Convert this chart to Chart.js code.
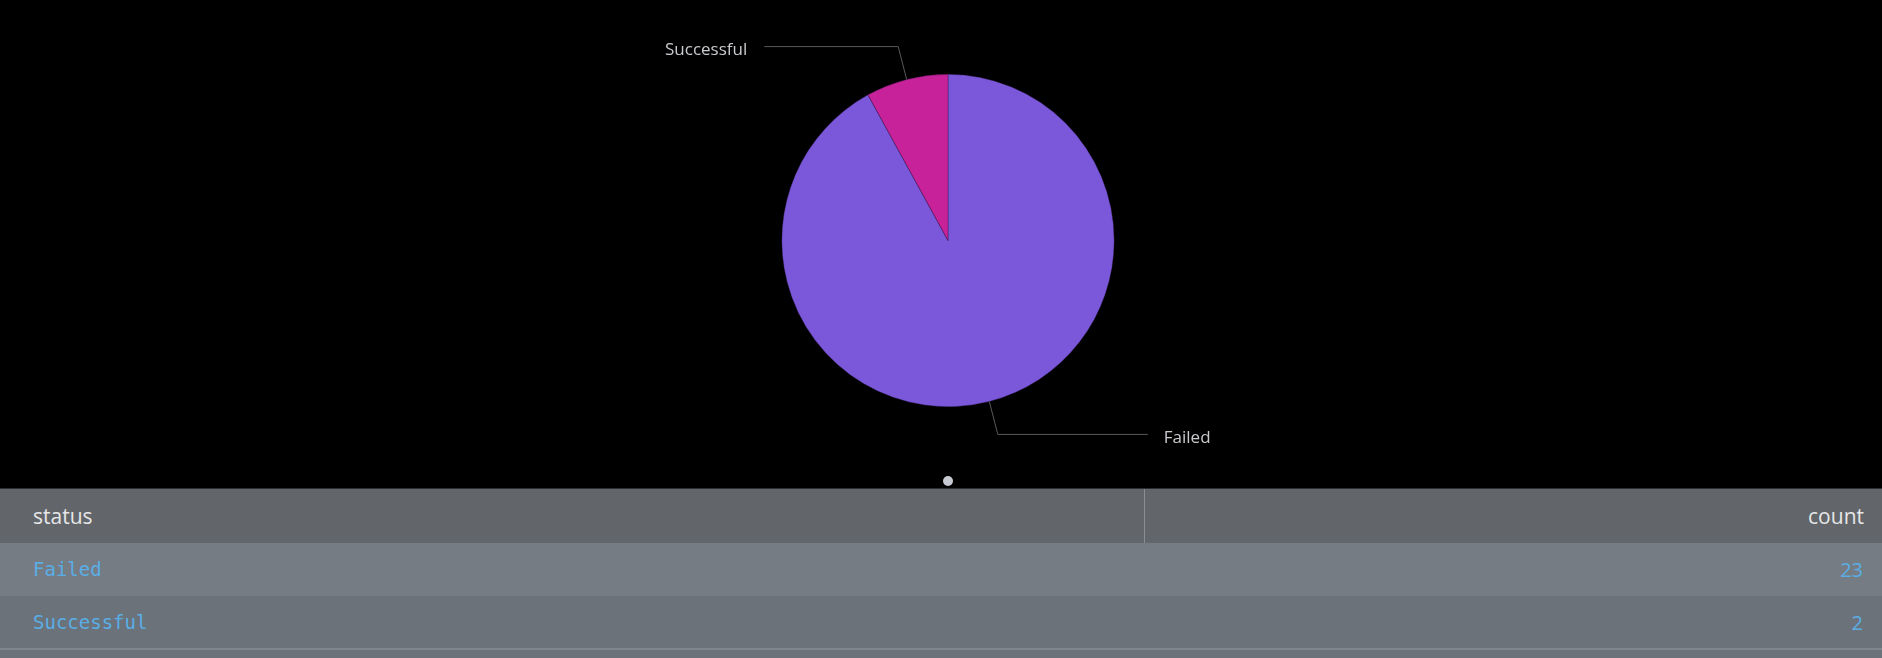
<!DOCTYPE html>
<html>
<head>
<meta charset="utf-8">
<script src="https://cdn.jsdelivr.net/npm/chart.js@4"></script>
<style>
  html, body { margin: 0; padding: 0; background: #000; width: 1882px; height: 658px; overflow: hidden; }
  #chartWrap { position: absolute; left: 0; top: 0; width: 1882px; height: 488px; }
  #dot { position: absolute; left: 943px; top: 476px; width: 10px; height: 10px; border-radius: 50%; background: #c6cbd3; }
  #table { position: absolute; left: 0; top: 488px; width: 1882px; height: 170px; background: #6b7279; border-top: 1px solid #2b2e32; box-sizing: border-box; }
  .row { position: relative; width: 100%; box-sizing: border-box; }
  .hdr { height: 54px; background: #626569; display: flex; }
  .hdr .c1 { width: 1145px; border-right: 1px solid #8a8e93; padding-left: 33px; box-sizing: border-box; line-height: 54px; font-family: "Open Sans", sans-serif; font-size: 21px; color: #e6e7e8; }
  .hdr .c2 { flex: 1; text-align: right; padding-right: 18px; line-height: 54px; font-family: "Open Sans", sans-serif; font-size: 21px; color: #e6e7e8; }
  .drow { height: 53px; display: flex; }
  .drow .c1 { width: 1146px; padding-left: 33px; box-sizing: border-box; line-height: 53px; font-family: "DejaVu Sans Mono", monospace; font-size: 19px; color: #5aaee6; }
  .drow .c2 { flex: 1; text-align: right; padding-right: 19px; line-height: 53px; font-family: "Open Sans", sans-serif; font-size: 20px; color: #5aaee6; }
  .r1 { background: #757c83; }
  .r2 { background: #6b7279; border-bottom: 2px solid #7f878e; height: 54px; }
</style>
</head>
<body>
<div id="chartWrap"><canvas id="c"></canvas></div>
<div id="dot"></div>
<div id="table"></div>
<script>
const categories = ["Failed", "Successful"];
const counts = [23, 2];
const columnHeaders = ["status", "count"];
const sliceColors = ["#7B57DA", "#C7229A"];

// Table built from the data arrays
const table = document.getElementById('table');
const hdr = document.createElement('div');
hdr.className = 'row hdr';
hdr.innerHTML = '<div class="c1">' + columnHeaders[0] + '</div><div class="c2">' + columnHeaders[1] + '</div>';
table.appendChild(hdr);
categories.forEach((cat, i) => {
  const r = document.createElement('div');
  r.className = 'row drow ' + (i === 0 ? 'r1' : 'r2');
  r.innerHTML = '<div class="c1">' + cat + '</div><div class="c2">' + counts[i] + '</div>';
  table.appendChild(r);
});

const leaderPlugin = {
  id: 'leaders',
  afterDatasetsDraw(chart) {
    const ctx = chart.ctx;
    const meta = chart.getDatasetMeta(0);
    ctx.save();
    meta.data.forEach((arc, i) => {
      const p = arc.getProps(['x', 'y', 'startAngle', 'endAngle', 'outerRadius'], true);
      const mid = (p.startAngle + p.endAngle) / 2;
      const cos = Math.cos(mid), sin = Math.sin(mid);
      const x0 = p.x + p.outerRadius * cos, y0 = p.y + p.outerRadius * sin;
      const x1 = p.x + (p.outerRadius + 34) * cos, y1 = p.y + (p.outerRadius + 34) * sin;
      const left = cos < 0;
      const x2 = left ? x1 - 134 : x1 + 150;
      ctx.strokeStyle = '#595959';
      ctx.lineWidth = 1;
      ctx.beginPath();
      ctx.moveTo(x0, y0);
      ctx.lineTo(x1, y1);
      ctx.lineTo(x2, y1);
      ctx.stroke();
      ctx.fillStyle = '#c8cace';
      ctx.font = '17px "Open Sans", sans-serif';
      ctx.textBaseline = 'middle';
      ctx.textAlign = left ? 'right' : 'left';
      ctx.fillText(chart.data.labels[i], left ? x2 - 17 : x2 + 16, y1 + 4);
    });
    ctx.restore();
  }
};

new Chart(document.getElementById('c'), {
  type: 'pie',
  data: {
    labels: categories,
    datasets: [{
      data: counts,
      backgroundColor: sliceColors,
      borderColor: 'rgba(40,20,60,0.6)',
      borderWidth: 0.6
    }]
  },
  options: {
    responsive: true,
    maintainAspectRatio: false,
    animation: false,
    layout: { padding: { left: 14, right: 0, top: 74, bottom: 81 } },
    plugins: { legend: { display: false }, tooltip: { enabled: false } }
  },
  plugins: [leaderPlugin]
});
</script>
</body>
</html>
